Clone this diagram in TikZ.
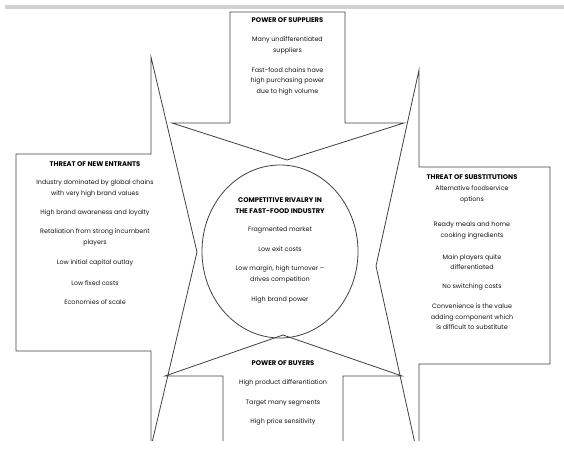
\documentclass[tikz,border=0pt]{standalone}
\usepackage{fontspec}
\setmainfont{Poppins}
\begin{document}
\begin{tikzpicture}[x=1bp,y=-1bp,
  outline/.style={draw=black!75, line width=0.8bp, line join=miter},
  body/.style={font=\fontsize{6.4}{10.5}\selectfont, text=black!92, align=center, inner sep=0pt},
  head/.style={font=\fontsize{6.8}{10.5}\selectfont\bfseries, text=black, align=center, inner sep=0pt}]
\useasboundingbox (0,0) rectangle (564,464);
\fill[black!18] (5,5) rectangle (564,9.5);
\begin{scope}
\clip (0,0) rectangle (564,440);
% top arrow (suppliers)
\draw[outline] (287,160) -- (172,123) -- (230,123) -- (230,12) -- (345,12) -- (345,123) -- (404,123) -- cycle;
% left arrow (new entrants)
\draw[outline] (16,154) -- (151,154) -- (151,57) -- (197,252) -- (151,447) -- (151,351) -- (16,351) -- cycle;
% right arrow (substitutions)
\draw[outline] (550,167) -- (419,167) -- (419,70) -- (376,266) -- (419,462) -- (419,364) -- (550,364) -- cycle;
% bottom arrow (buyers)
\draw[outline] (283,335) -- (165,376) -- (223,376) -- (223,500) -- (343,500) -- (343,376) -- (402,376) -- cycle;
\end{scope}
\draw[outline] (280,251.5) ellipse [x radius=78, y radius=86.5];

% suppliers
\node[head] (supH) at (287.5,20) {POWER OF SUPPLIERS};
\node[body] (sup1) at (287.5,45.5) {Many undifferentiated\\suppliers};
\node[body] (sup2) at (287.5,81) {Fast-food chains have\\high purchasing power\\due to high volume};

% new entrants
\node[head] (entH) at (95,164) {THREAT OF NEW ENTRANTS};
\node[body] (ent1) at (95,188.5) {Industry dominated by global chains\\with very high brand values};
\node[body] (ent2) at (95,213) {High brand awareness and loyalty};
\node[body] (ent3) at (95,237.5) {Retaliation from strong incumbent\\players};
\node[body] (ent4) at (95,263) {Low initial capital outlay};
\node[body] (ent5) at (95,283) {Low fixed costs};
\node[body] (ent6) at (95,302) {Economies of scale};

% rivalry
\node[head] (rivH) at (280,205.5) {COMPETITIVE RIVALRY IN\\THE FAST-FOOD INDUSTRY};
\node[body] (riv1) at (280,230) {Fragmented market};
\node[body] (riv2) at (280,249) {Low exit costs};
\node[body] (riv3) at (280,274.5) {Low margin, high turnover –\\drives competition};
\node[body] (riv4) at (280,300) {High brand power};

% substitutions
\node[head] (subH) at (472,177) {THREAT OF SUBSTITUTIONS};
\node[body] (sub1) at (472,194.5) {Alternative foodservice\\options};
\node[body] (sub2) at (472,230.5) {Ready meals and home\\cooking ingredients};
\node[body] (sub3) at (472,262) {Main players quite\\differentiated};
\node[body] (sub4) at (472,287) {No switching costs};
\node[body] (sub5) at (472,317) {Convenience is the value\\adding component which\\is difficult to substitute};

% buyers
\node[head] (buyH) at (283,363) {POWER OF BUYERS};
\node[body] (buy1) at (283,383) {High product differentiation};
\node[body] (buy2) at (283,403) {Target many segments};
\node[body] (buy3) at (283,422) {High price sensitivity};
\end{tikzpicture}
\end{document}
